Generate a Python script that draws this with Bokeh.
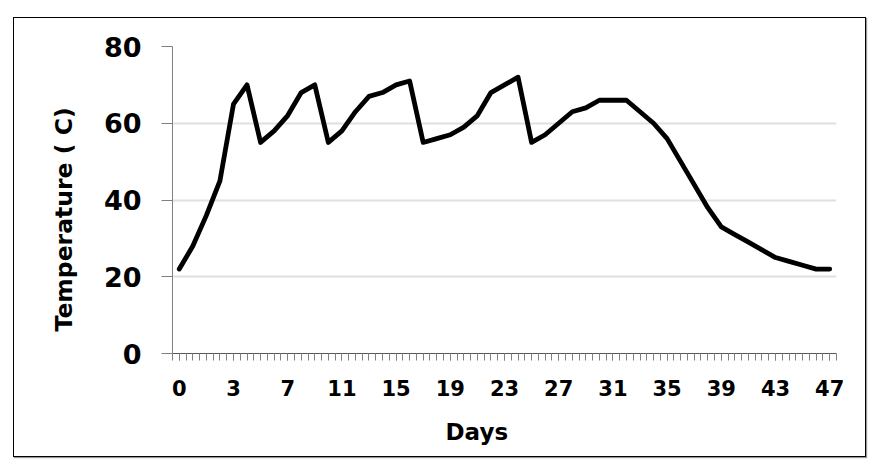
from bokeh.embed import file_html
from bokeh.models import FixedTicker, InlineStyleSheet, Range1d, Title
from bokeh.plotting import figure
from bokeh.resources import INLINE

# day labels (only every 4th one is shown) and temperatures
day_labels = ["0", "0.5", "1", "2"] + [str(d) for d in range(3, 48)]
temperature = [22, 28, 36, 45, 65, 70, 55, 58, 62, 68, 70, 55, 58, 63, 67, 68,
               70, 71, 55, 56, 57, 59, 62, 68, 70, 72, 55, 57, 60, 63, 64, 66,
               66, 66, 63, 60, 56, 50, 44, 38, 33, 31, 29, 27, 25, 24, 23, 22, 22]
y_ticks = [0, 20, 40, 60, 80]

idx = list(range(len(temperature)))

# outer chart border, drawn with css so it sits outside the plot frame
border = InlineStyleSheet(css="""
:host::after {
  content: "";
  position: absolute;
  left: 13px; top: 17px; width: 851px; height: 438px;
  border: 1.5px solid #000;
  box-shadow: 1px 1px 1px #999;
  pointer-events: none;
}
""")

p = figure(width=876, height=468, output_backend="svg", toolbar_location=None,
           x_range=Range1d(-0.5, len(idx) - 0.5), y_range=Range1d(0, 80),
           min_border_left=172, min_border_top=46, min_border_right=40,
           min_border_bottom=115, stylesheets=[border])
p.outline_line_color = None

p.line(idx, temperature, line_color="black", line_width=4.8,
       line_join="round", line_cap="round")

# x axis: a label every 4th day, tick marks every half step
p.xaxis.ticker = FixedTicker(ticks=list(range(0, len(idx), 4)),
                             minor_ticks=[i / 2 for i in range(-1, 2 * len(idx))])
p.xaxis.major_label_overrides = {i: day_labels[i] for i in range(0, len(idx), 4)}
p.xaxis.major_tick_out = 7
p.xaxis.major_tick_in = 0
p.xaxis.minor_tick_out = 7
p.xaxis.minor_tick_in = 0
p.xaxis.major_tick_line_color = "#808080"
p.xaxis.minor_tick_line_color = "#808080"
p.xaxis.axis_line_color = "#595959"
p.xaxis.major_label_text_font = "DejaVu Sans"
p.xaxis.major_label_text_font_style = "bold"
p.xaxis.major_label_text_font_size = "21px"
p.xaxis.major_label_text_color = "black"
p.xaxis.major_label_standoff = 19

p.yaxis.ticker = FixedTicker(ticks=y_ticks)
p.yaxis.minor_tick_line_color = None
p.yaxis.major_tick_out = 11
p.yaxis.major_tick_in = 0
p.yaxis.major_tick_line_color = "#808080"
p.yaxis.axis_line_color = "#808080"
p.yaxis.major_label_text_font = "DejaVu Sans"
p.yaxis.major_label_text_font_style = "bold"
p.yaxis.major_label_text_font_size = "27px"
p.yaxis.major_label_text_color = "black"
p.yaxis.major_label_standoff = 20

p.xgrid.grid_line_color = None
p.ygrid.grid_line_color = "#e0e0e0"
p.ygrid.grid_line_width = 2

# axis titles, placed as side titles so they can sit off-centre like the original
p.add_layout(Title(text="Days", align="left", offset=273, standoff=37,
                   text_font="DejaVu Sans", text_font_style="bold",
                   text_font_size="23px", text_color="black"), "below")
p.add_layout(Title(text="Temperature ( C)", align="left", offset=22, standoff=45,
                   text_font="DejaVu Sans", text_font_style="bold",
                   text_font_size="23.5px", text_color="black"), "left")

open("out.html", "w").write(file_html(p, INLINE))
